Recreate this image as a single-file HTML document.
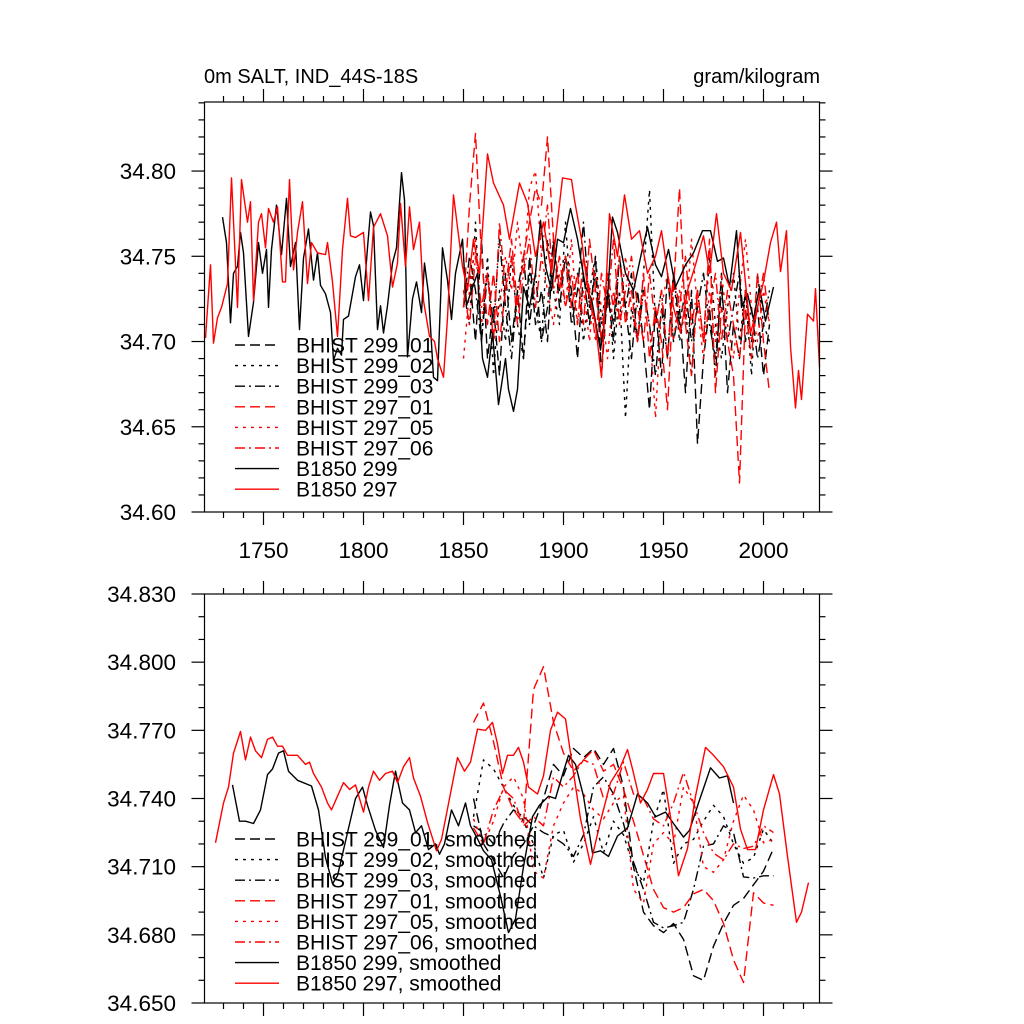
<!DOCTYPE html>
<html><head><meta charset="utf-8"><style>
html,body{margin:0;padding:0;background:#fff;}
svg{display:block;font-family:"Liberation Sans",sans-serif;}
</style></head><body>
<svg id="chart" width="1024" height="1024" viewBox="0 0 1024 1024" xmlns="http://www.w3.org/2000/svg">
<text x="204" y="83" font-size="20">0m SALT, IND_44S-18S</text>
<text x="820" y="83" font-size="20" text-anchor="end">gram/kilogram</text>
<g id="top-panel"></g>
<g id="bottom-panel"></g>
</svg>
<script>
// ---- top panel data ----
const topYTicks = [34.60, 34.65, 34.70, 34.75, 34.80];
const topYTickLabels = ["34.60","34.65","34.70","34.75","34.80"];
const xTicks = [1750, 1800, 1850, 1900, 1950, 2000];
const xTickLabels = ["1750","1800","1850","1900","1950","2000"];
const botYTicks = [34.65, 34.68, 34.71, 34.74, 34.77, 34.80, 34.83];
const botYTickLabels = ["34.650","34.680","34.710","34.740","34.770","34.800","34.830"];

const b297Years = [1721,1723.5,1725,1727,1729,1732,1734,1737,1739,1742,1743.5,1745,1747.5,1749,1751,1752.5,1755,1757,1759.5,1761,1763,1765,1767,1769.5,1772,1774,1777,1781,1782,1784.5,1787,1789.5,1792,1793.5,1796,1800,1802.5,1805,1808.5,1812,1814.5,1817,1818.5,1821,1823,1825,1828,1830,1833,1835.5,1837,1840,1842,1845,1847,1849.5,1852,1855,1858,1862,1865,1870,1873,1878,1882,1886,1890,1894,1899.5,1904,1905.5,1909,1912,1916,1919,1923,1927,1930.5,1934,1938,1942,1946,1949,1952,1955,1958.5,1962,1966,1970,1973,1976.5,1980,1984,1988.5,1993.5,1997,2000,2003.5,2006.5,2008.5,2011.5,2013.5,2016,2017.5,2019,2022,2025,2026,2028];
const b297Vals = [34.702,34.745,34.699,34.714,34.72,34.734,34.796,34.72,34.795,34.77,34.782,34.724,34.77,34.775,34.755,34.778,34.77,34.779,34.735,34.735,34.795,34.742,34.764,34.782,34.734,34.758,34.752,34.751,34.758,34.735,34.703,34.754,34.784,34.762,34.761,34.764,34.724,34.767,34.775,34.762,34.732,34.746,34.781,34.744,34.779,34.754,34.77,34.724,34.703,34.70,34.69,34.679,34.714,34.786,34.767,34.744,34.73,34.76,34.74,34.81,34.793,34.78,34.76,34.793,34.781,34.75,34.77,34.74,34.796,34.795,34.783,34.76,34.732,34.71,34.679,34.775,34.75,34.786,34.76,34.765,34.74,34.75,34.765,34.74,34.72,34.705,34.73,34.745,34.762,34.74,34.775,34.74,34.73,34.764,34.705,34.72,34.735,34.758,34.77,34.741,34.765,34.697,34.661,34.683,34.666,34.716,34.712,34.731,34.685];

const b299Years = [1729.5,1731.5,1733.5,1735,1737,1738.5,1740,1742.5,1745,1747.5,1749.5,1751.5,1752.5,1754,1756.5,1759,1761.5,1763.5,1766,1768,1770,1772.5,1775,1777,1778.5,1781,1783.5,1785,1787,1789,1790,1792.5,1796,1798,1800,1802,1803.5,1805,1807,1808.5,1810,1812,1814.5,1816.5,1819,1820.5,1822,1824.5,1826.5,1829,1830.5,1832.5,1835,1837,1839.5,1842,1844,1846,1849.5,1851.5,1854,1857,1859.5,1862,1864.5,1867.5,1871,1872.5,1875,1877,1880,1883,1886,1888.5,1891,1894,1897,1900,1903.5,1907,1911,1914,1918.5,1922,1924.5,1927,1931,1935,1939,1942,1946,1949,1952.5,1956,1961,1965,1969.5,1973.5,1977,1980,1983,1986.5,1989,1992,1995,1998,2001,2005];
const b299Vals = [34.773,34.758,34.711,34.74,34.744,34.764,34.752,34.703,34.723,34.758,34.74,34.754,34.72,34.754,34.78,34.751,34.784,34.744,34.758,34.707,34.749,34.766,34.736,34.752,34.733,34.728,34.717,34.689,34.696,34.692,34.713,34.715,34.738,34.745,34.724,34.755,34.776,34.768,34.707,34.721,34.705,34.721,34.746,34.755,34.799,34.783,34.691,34.725,34.735,34.717,34.746,34.728,34.679,34.677,34.755,34.736,34.713,34.74,34.76,34.721,34.73,34.74,34.69,34.679,34.705,34.663,34.69,34.672,34.659,34.672,34.732,34.72,34.74,34.771,34.744,34.73,34.76,34.758,34.778,34.76,34.732,34.725,34.695,34.725,34.773,34.764,34.74,34.73,34.752,34.767,34.745,34.738,34.754,34.732,34.745,34.752,34.765,34.765,34.747,34.749,34.732,34.765,34.72,34.728,34.713,34.732,34.712,34.732];

const bhYears = [1850,1853,1856,1859,1862,1865,1868,1871,1874,1877,1880,1883,1886,1889,1892,1895,1898,1901,1904,1907,1910,1913,1916,1919,1922,1925,1928,1931,1934,1937,1940,1943,1946,1949,1952,1955,1958,1961,1964,1967,1970,1973,1976,1979,1982,1985,1988,1991,1994,1997,2000,2003];
const h299_01 = [34.72,34.74,34.70,34.76,34.69,34.72,34.68,34.74,34.70,34.73,34.69,34.75,34.71,34.73,34.70,34.76,34.72,34.75,34.73,34.69,34.74,34.71,34.75,34.68,34.73,34.70,34.75,34.72,34.69,34.73,34.70,34.66,34.72,34.68,34.74,34.70,34.72,34.67,34.73,34.64,34.69,34.72,34.68,34.74,34.67,34.71,34.69,34.73,34.70,34.72,34.68,34.71];
const h299_02 = [34.73,34.71,34.77,34.70,34.75,34.68,34.73,34.70,34.75,34.71,34.69,34.74,34.72,34.70,34.76,34.73,34.71,34.77,34.72,34.74,34.70,34.73,34.75,34.71,34.74,34.69,34.73,34.655,34.72,34.70,34.74,34.789,34.71,34.73,34.69,34.74,34.70,34.72,34.68,34.73,34.70,34.75,34.71,34.69,34.72,34.74,34.70,34.73,34.68,34.74,34.71,34.70];
const h299_03 = [34.72,34.75,34.73,34.70,34.74,34.71,34.76,34.72,34.69,34.73,34.75,34.71,34.74,34.70,34.72,34.76,34.73,34.75,34.71,34.73,34.77,34.72,34.74,34.70,34.73,34.71,34.75,34.72,34.74,34.70,34.73,34.71,34.68,34.72,34.69,34.74,34.71,34.73,34.70,34.72,34.74,34.71,34.69,34.73,34.70,34.72,34.74,34.70,34.72,34.69,34.71,34.73];
const h297_01 = [34.72,34.78,34.822,34.75,34.71,34.74,34.70,34.73,34.76,34.72,34.75,34.77,34.79,34.78,34.82,34.76,34.73,34.75,34.72,34.74,34.71,34.76,34.73,34.70,34.74,34.72,34.75,34.71,34.73,34.70,34.74,34.69,34.72,34.70,34.66,34.73,34.79,34.71,34.68,34.73,34.70,34.76,34.67,34.72,34.70,34.68,34.617,34.72,34.69,34.74,34.70,34.67];
const h297_05 = [34.69,34.73,34.76,34.71,34.74,34.70,34.72,34.75,34.73,34.77,34.74,34.79,34.80,34.75,34.73,34.71,34.74,34.72,34.76,34.71,34.73,34.70,34.74,34.72,34.69,34.73,34.71,34.75,34.72,34.70,34.73,34.71,34.655,34.72,34.74,34.70,34.73,34.71,34.76,34.72,34.69,34.73,34.70,34.74,34.71,34.69,34.73,34.76,34.72,34.70,34.73,34.71];
const h297_06 = [34.73,34.71,34.75,34.72,34.74,34.70,34.77,34.73,34.75,34.71,34.74,34.76,34.72,34.75,34.78,34.73,34.75,34.72,34.74,34.71,34.75,34.73,34.70,34.74,34.72,34.76,34.71,34.73,34.75,34.72,34.70,34.74,34.71,34.73,34.69,34.74,34.72,34.75,34.71,34.73,34.70,34.72,34.74,34.70,34.73,34.71,34.69,34.73,34.70,34.72,34.74,34.71];

// ---- bottom panel (smoothed) data ----
const s297Years = [1726,1730,1732.5,1735,1738.5,1741,1743.5,1746,1749,1752,1754.5,1757,1759.5,1762,1767,1771,1773,1775,1779,1782,1784,1787,1790,1793,1796,1800,1802.5,1805,1808,1811,1814.5,1817,1820,1823,1825,1828.5,1832,1836.5,1839,1843,1847,1850.5,1853.5,1857,1861,1864.5,1867,1869.5,1872,1875,1877.5,1880,1882.5,1887,1890,1893.5,1897,1901,1903,1908.5,1913.5,1918.5,1923.5,1928.5,1932,1934.5,1938.5,1942,1945,1950,1953.5,1957.5,1962,1966,1971,1975,1980,1985,1988.5,1992,1996,2000,2005,2008,2012,2016.5,2019,2022.5];
const s297Vals = [34.7205,34.738,34.745,34.76,34.7695,34.757,34.767,34.761,34.758,34.766,34.767,34.763,34.763,34.759,34.759,34.755,34.756,34.751,34.745,34.738,34.735,34.741,34.747,34.744,34.746,34.734,34.745,34.752,34.748,34.751,34.752,34.747,34.754,34.758,34.749,34.741,34.7295,34.717,34.722,34.74,34.758,34.752,34.756,34.7705,34.770,34.7735,34.764,34.751,34.759,34.759,34.7625,34.756,34.745,34.742,34.75,34.77,34.778,34.775,34.763,34.731,34.711,34.73,34.747,34.754,34.7615,34.753,34.738,34.744,34.751,34.751,34.732,34.706,34.718,34.741,34.7625,34.759,34.754,34.745,34.7265,34.7175,34.7175,34.735,34.7505,34.742,34.7145,34.6855,34.69,34.703];

const s299Years = [1734.5,1738,1741,1745,1748.5,1752,1754.5,1757.5,1760,1762.5,1767,1774,1777.5,1781,1784.5,1787,1792,1796,1799.5,1802,1806,1810,1813,1816,1819.5,1823,1826,1829,1832.5,1836,1838,1840.5,1844,1847.5,1851,1853.5,1856,1860,1864,1868.5,1872.5,1876,1880,1884.5,1888,1892.5,1896,1899,1902.5,1906,1910,1914.5,1918.5,1922.5,1927,1932,1937,1942,1946,1951,1955,1960,1963,1967.5,1973.5,1978,1982,1985];
const s299Vals = [34.746,34.73,34.73,34.729,34.735,34.7505,34.753,34.76,34.761,34.752,34.748,34.7455,34.735,34.714,34.7025,34.706,34.725,34.740,34.745,34.737,34.726,34.7185,34.737,34.752,34.738,34.735,34.725,34.728,34.7175,34.720,34.7155,34.72,34.735,34.728,34.738,34.728,34.724,34.717,34.713,34.697,34.681,34.687,34.71,34.732,34.737,34.741,34.740,34.749,34.759,34.755,34.741,34.716,34.717,34.7145,34.7235,34.727,34.742,34.738,34.732,34.734,34.729,34.723,34.726,34.738,34.7535,34.749,34.750,34.738];

const sBhYears = [1855,1860,1865,1870,1875,1880,1885,1890,1895,1900,1905,1910,1915,1920,1925,1930,1935,1940,1945,1950,1955,1960,1965,1970,1975,1980,1985,1990,1995,2000,2005];
const s299_01 = [34.74,34.72,34.713,34.705,34.715,34.72,34.728,34.74,34.755,34.75,34.762,34.758,34.762,34.755,34.762,34.745,34.71,34.69,34.684,34.681,34.685,34.678,34.662,34.66,34.675,34.685,34.693,34.696,34.702,34.708,34.718];
const s299_02 = [34.732,34.757,34.753,34.745,34.737,34.73,34.72,34.705,34.724,34.726,34.712,34.72,34.732,34.716,34.73,34.724,34.71,34.703,34.73,34.744,34.7115,34.72,34.722,34.73,34.737,34.732,34.72,34.7115,34.714,34.7265,34.72];
const s299_03 = [34.728,34.725,34.72,34.729,34.735,34.732,34.728,34.725,34.723,34.72,34.7145,34.724,34.745,34.7495,34.742,34.729,34.712,34.70,34.6855,34.683,34.684,34.6855,34.70,34.719,34.72,34.728,34.725,34.7055,34.705,34.706,34.706];
const s297_01 = [34.7735,34.782,34.765,34.745,34.735,34.729,34.788,34.798,34.7735,34.76,34.752,34.757,34.7615,34.752,34.755,34.744,34.73,34.715,34.7,34.692,34.69,34.692,34.698,34.70,34.695,34.685,34.669,34.659,34.6985,34.694,34.693];
const s297_05 = [34.731,34.72,34.73,34.745,34.7495,34.74,34.708,34.705,34.728,34.738,34.745,34.742,34.735,34.731,34.738,34.7415,34.70,34.694,34.72,34.725,34.72,34.745,34.738,34.71,34.7075,34.713,34.73,34.7415,34.735,34.7205,34.722];
const s297_06 = [34.727,34.72,34.735,34.744,34.74,34.728,34.732,34.728,34.7495,34.745,34.75,34.757,34.755,34.74,34.742,34.756,34.742,34.74,34.731,34.728,34.738,34.7515,34.738,34.725,34.716,34.713,34.72,34.718,34.719,34.728,34.725];

// ---- layout ----
const X0 = 204.5, X1 = 819.5, XMIN = 1720.5, XMAX = 2028;
function xs(v){ return X0 + (v - XMIN) / (XMAX - XMIN) * (X1 - X0); }
const topP = {y0:102, y1:512, min:34.60, max:34.8405};
const botP = {y0:594, y1:1003, min:34.65, max:34.83};
function ysF(p){ return v => p.y1 - (v - p.min) / (p.max - p.min) * (p.y1 - p.y0); }

const NS = "http://www.w3.org/2000/svg";
function mk(tag, attrs, parent){
  const e = document.createElementNS(NS, tag);
  for (const k in attrs) e.setAttribute(k, attrs[k]);
  parent.appendChild(e); return e;
}
const DASH = {solid:"", dash:"10,5", dot:"3,5", dashdot:"10,4,2,4"};

function drawLine(g, years, vals, ys, color, style, name){
  let d = "";
  for (let i=0;i<years.length;i++){ d += (i?"L":"M") + xs(years[i]).toFixed(1) + "," + ys(vals[i]).toFixed(1); }
  const p = mk("path", {d:d, fill:"none", stroke:color, "stroke-width":1.4, "stroke-dasharray":DASH[style], "stroke-linejoin":"round"}, g);
  
  
}

function drawFrame(g, p, yTicks, yLabels, minorStep, showXLabels, prefix){
  const ys = ysF(p);
  const ax = mk("g", {stroke:"#000", "stroke-width":1.2, fill:"none"}, g);
  
  
  for (let yr=1730; yr<=2020; yr+=10){
    const x = xs(yr), major = yr % 50 === 0, L = major ? 13 : 6;
    mk("line", {x1:x, x2:x, y1:p.y0, y2:p.y0-L}, ax);
    mk("line", {x1:x, x2:x, y1:p.y1, y2:p.y1+L}, ax);
  }
  const nMin = Math.round((p.max - p.min) / minorStep);
  for (let i=0;i<=nMin;i++){
    const v = p.min + i*minorStep; if (v > p.max + 1e-9) break;
    const y = ys(v);
    const isMajor = yTicks.some(t => Math.abs(t - v) < 1e-6);
    const L = isMajor ? 13 : 6;
    mk("line", {x1:X0, x2:X0-L, y1:y, y2:y}, ax);
    mk("line", {x1:X1, x2:X1+L, y1:y, y2:y}, ax);
  }
  mk("rect", {x:X0, y:p.y0, width:X1-X0, height:p.y1-p.y0}, ax);
  yTicks.forEach((t,i) => {
    const tx = mk("text", {x:176, y:ys(t)+8, "font-size":22.5, "text-anchor":"end", fill:"#000"}, g);
    tx.textContent = yLabels[i];
    
    
  });
  if (showXLabels){
    xTicks.forEach((t,i) => {
      const tx = mk("text", {x:xs(t), y:558, "font-size":22.5, "text-anchor":"middle", fill:"#000"}, g);
      tx.textContent = xTickLabels[i];
      
      
    });
  }
}

function drawLegend(g, y0, entries, prefix){
  entries.forEach((e,i) => {
    const y = y0 + i*20.6;
    const l = mk("line", {x1:235, x2:279, y1:y, y2:y, stroke:e[1], "stroke-width":1.4, "stroke-dasharray":DASH[e[2]]}, g);
    
    
    const t = mk("text", {x:296, y:y+7.5, "font-size":21, fill:"#000"}, g);
    t.textContent = e[0];
    
    
  });
}

const gT = document.getElementById("top-panel");
const ysT = ysF(topP);
drawLine(gT, bhYears, h299_01, ysT, "#000", "dash", "bhist-299-01-line");
drawLine(gT, bhYears, h299_02, ysT, "#000", "dot", "bhist-299-02-line");
drawLine(gT, bhYears, h299_03, ysT, "#000", "dashdot", "bhist-299-03-line");
drawLine(gT, bhYears, h297_01, ysT, "#f00", "dash", "bhist-297-01-line");
drawLine(gT, bhYears, h297_05, ysT, "#f00", "dot", "bhist-297-05-line");
drawLine(gT, bhYears, h297_06, ysT, "#f00", "dashdot", "bhist-297-06-line");
drawLine(gT, b299Years, b299Vals, ysT, "#000", "solid", "b1850-299-line");
drawLine(gT, b297Years, b297Vals, ysT, "#f00", "solid", "b1850-297-line");
drawFrame(gT, topP, topYTicks, topYTickLabels, 0.01, true, "top");
drawLegend(gT, 345, [["BHIST 299_01","#000","dash"],["BHIST 299_02","#000","dot"],["BHIST 299_03","#000","dashdot"],["BHIST 297_01","#f00","dash"],["BHIST 297_05","#f00","dot"],["BHIST 297_06","#f00","dashdot"],["B1850 299","#000","solid"],["B1850 297","#f00","solid"]], "top");

const gB = document.getElementById("bottom-panel");
const ysB = ysF(botP);
drawLine(gB, sBhYears, s299_01, ysB, "#000", "dash", "bhist-299-01-smoothed-line");
drawLine(gB, sBhYears, s299_02, ysB, "#000", "dot", "bhist-299-02-smoothed-line");
drawLine(gB, sBhYears, s299_03, ysB, "#000", "dashdot", "bhist-299-03-smoothed-line");
drawLine(gB, sBhYears, s297_01, ysB, "#f00", "dash", "bhist-297-01-smoothed-line");
drawLine(gB, sBhYears, s297_05, ysB, "#f00", "dot", "bhist-297-05-smoothed-line");
drawLine(gB, sBhYears, s297_06, ysB, "#f00", "dashdot", "bhist-297-06-smoothed-line");
drawLine(gB, s299Years, s299Vals, ysB, "#000", "solid", "b1850-299-smoothed-line");
drawLine(gB, s297Years, s297Vals, ysB, "#f00", "solid", "b1850-297-smoothed-line");
drawFrame(gB, botP, botYTicks, botYTickLabels, 0.01, false, "bottom");
drawLegend(gB, 839, [["BHIST 299_01, smoothed","#000","dash"],["BHIST 299_02, smoothed","#000","dot"],["BHIST 299_03, smoothed","#000","dashdot"],["BHIST 297_01, smoothed","#f00","dash"],["BHIST 297_05, smoothed","#f00","dot"],["BHIST 297_06, smoothed","#f00","dashdot"],["B1850 299, smoothed","#000","solid"],["B1850 297, smoothed","#f00","solid"]], "bottom");
</script>
</body></html>
